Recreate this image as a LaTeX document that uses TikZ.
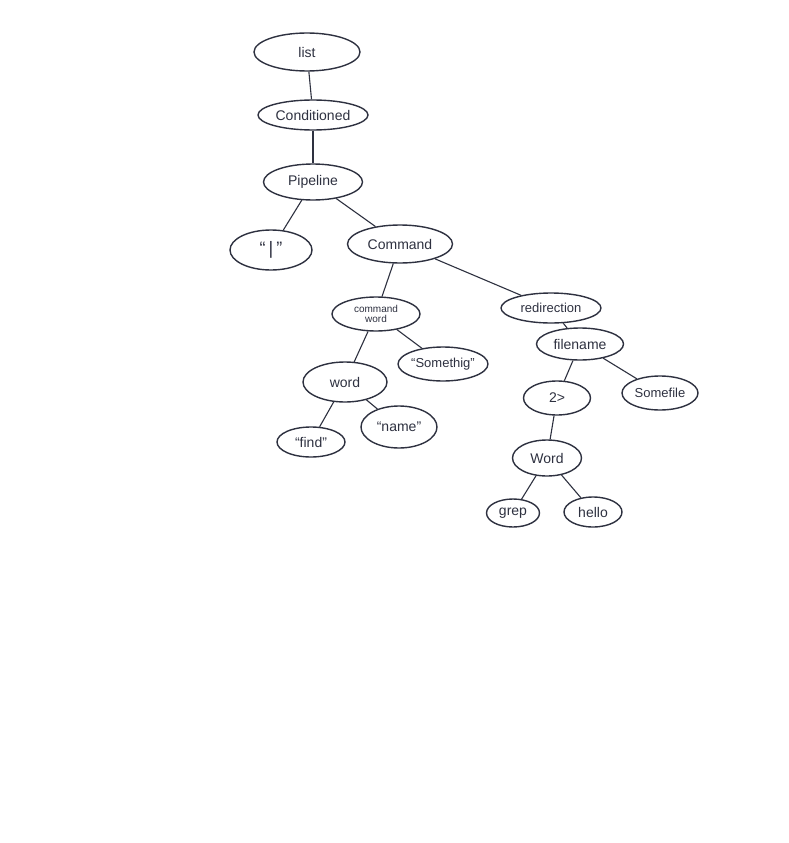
\documentclass[tikz,border=0pt]{standalone}
\usetikzlibrary{shapes.geometric}
\usepackage{fontspec}
\setmainfont{Liberation Sans}
\definecolor{ink}{HTML}{2E3140}
\begin{document}
\begin{tikzpicture}[x=1pt,y=-1pt,
  el/.style={ellipse,draw=ink,line width=1.4pt,inner sep=0pt,text=ink,
    font=\fontsize{14}{15}\selectfont,minimum width=#1},
  el/.default=80pt,
  edge/.style={draw=ink,line width=1.1pt}]
\useasboundingbox[fill=white] (0,0) rectangle (789,843);
\node[el=106pt,minimum height=38pt] (list) at (307,52) {list};
\node[el=110pt,minimum height=30pt] (cond) at (313,115) {Conditioned};
\node[el=99pt,minimum height=36pt] (pipe) at (313,182) {Pipeline};
\node[el=82pt,minimum height=40pt,font=\fontsize{18}{18}\selectfont] (bar) at (271,250) {“\,|\,”};
\node[el=105pt,minimum height=38pt] (cmd) at (400,244) {Command};
\node[el=88pt,minimum height=34pt,align=center,font=\fontsize{10}{10}\selectfont] (cw) at (376,314) {command\\word};
\node[el=86pt,minimum height=34pt,font=\fontsize{13}{14}\selectfont] (some) at (443,364) {“Somethig”};
\node[el=84pt,minimum height=40pt] (word) at (345,382) {word};
\node[el=68pt,minimum height=30pt] (find) at (311,442) {“find”};
\node[el=76pt,minimum height=42pt] (name) at (399,427) {“name”};
\node[el=100pt,minimum height=30pt,font=\fontsize{13}{14}\selectfont] (redir) at (551,308) {redirection};
\node[el=87pt,minimum height=32pt] (fname) at (580,344) {filename};
\node[el=67pt,minimum height=34pt] (two) at (557,398) {2>};
\node[el=76pt,minimum height=34pt,font=\fontsize{13}{14}\selectfont] (somef) at (660,393) {Somefile};
\node[el=69pt,minimum height=36pt] (Word) at (547,458) {Word};
\node[el=53pt,minimum height=28pt] (grep) at (513,513) {grep};
\node[el=58pt,minimum height=30pt] (hello) at (593,512) {hello};
\draw[edge] (list) -- (cond);
\draw[edge] (cond) -- (pipe);
\draw[edge] (pipe) -- (bar);
\draw[edge] (pipe) -- (cmd);
\draw[edge] (cmd) -- (cw);
\draw[edge] (cmd) -- (redir);
\draw[edge] (cw) -- (word);
\draw[edge] (cw) -- (some);
\draw[edge] (word) -- (find);
\draw[edge] (word) -- (name);
\draw[edge] (redir) -- (fname);
\draw[edge] (fname) -- (two);
\draw[edge] (fname) -- (somef);
\draw[edge] (two) -- (Word);
\draw[edge] (Word) -- (grep);
\draw[edge] (Word) -- (hello);
\end{tikzpicture}
\end{document}
